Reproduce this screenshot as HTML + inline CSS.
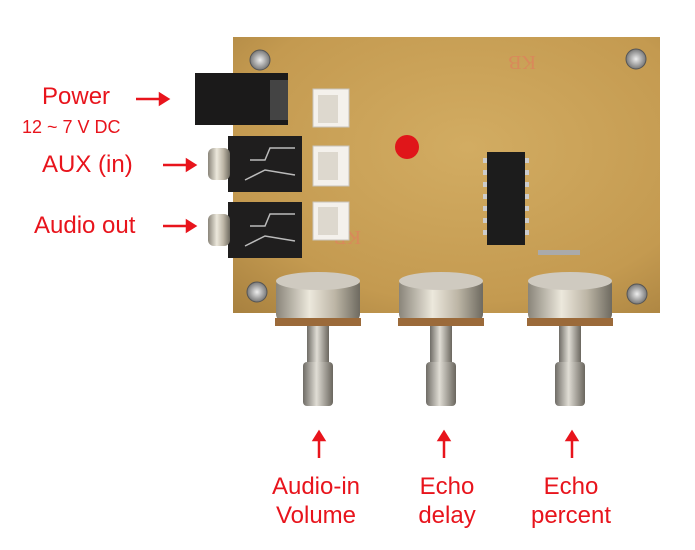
<!DOCTYPE html>
<html><head><style>
body{margin:0;background:#fff;width:695px;height:550px;position:relative;overflow:hidden;font-family:"Liberation Sans",sans-serif}
.t{position:absolute;color:#e8141c;font-size:24px;line-height:29px;text-align:center;white-space:nowrap}
.a{position:absolute}
</style></head><body>
<svg class="a" style="left:0;top:0" width="695" height="550">
<defs>
<radialGradient id="pcb" cx="0.55" cy="0.4" r="0.8"><stop offset="0" stop-color="#d2ac62"/><stop offset="0.7" stop-color="#c49a50"/><stop offset="1" stop-color="#a98240"/></radialGradient>
<linearGradient id="met" x1="0" x2="1"><stop offset="0" stop-color="#8a857a"/><stop offset="0.4" stop-color="#ece8dc"/><stop offset="0.7" stop-color="#bdb6a6"/><stop offset="1" stop-color="#6e6a60"/></linearGradient>
<linearGradient id="sh" x1="0" x2="1"><stop offset="0" stop-color="#6f6c66"/><stop offset="0.45" stop-color="#e0ddd5"/><stop offset="1" stop-color="#6a665e"/></linearGradient>
<radialGradient id="scr"><stop offset="0" stop-color="#eee"/><stop offset="1" stop-color="#777"/></radialGradient>
</defs>
<rect x="233" y="37" width="427" height="276" fill="url(#pcb)"/>
<text x="540" y="70" font-size="20" fill="#d9895a" transform="rotate(180 538 63)" font-family="Liberation Serif">KB</text>
<text x="365" y="245" font-size="20" fill="#d9895a" transform="rotate(180 363 238)" font-family="Liberation Serif">KB</text>
<g fill="url(#scr)" stroke="#555"><circle cx="260" cy="60" r="10"/><circle cx="636" cy="59" r="10"/><circle cx="257" cy="292" r="10"/><circle cx="637" cy="294" r="10"/></g>
<!-- power jack -->
<rect x="195" y="73" width="93" height="52" fill="#1b1a1a"/>
<rect x="270" y="80" width="18" height="40" fill="#444"/>
<!-- audio jacks -->
<rect x="228" y="136" width="74" height="56" fill="#1f1e1e"/>
<rect x="228" y="202" width="74" height="56" fill="#1f1e1e"/>
<rect x="208" y="148" width="22" height="32" rx="6" fill="url(#met)"/>
<rect x="208" y="214" width="22" height="32" rx="6" fill="url(#met)"/>
<g stroke="#bbb" fill="none" stroke-width="1.5"><path d="M250 160 l15 0 l5 -12 l25 0 M245 180 l20 -10 l30 5"/><path d="M250 226 l15 0 l5 -12 l25 0 M245 246 l20 -10 l30 5"/></g>
<!-- white connectors -->
<g fill="#f4f1ec" stroke="#c8c4bb"><rect x="313" y="89" width="36" height="38"/><rect x="313" y="146" width="36" height="40"/><rect x="313" y="202" width="36" height="38"/></g>
<g fill="#ddd8ce"><rect x="318" y="95" width="20" height="28"/><rect x="318" y="152" width="20" height="28"/><rect x="318" y="207" width="20" height="28"/></g>
<!-- LED -->
<circle cx="407" cy="147" r="12" fill="#e0161a"/>
<!-- IC -->
<rect x="487" y="152" width="38" height="93" fill="#1c1c1c"/>
<g fill="#ccc"><rect x="483" y="158" width="4" height="5"/><rect x="483" y="170" width="4" height="5"/><rect x="483" y="182" width="4" height="5"/><rect x="483" y="194" width="4" height="5"/><rect x="483" y="206" width="4" height="5"/><rect x="483" y="218" width="4" height="5"/><rect x="483" y="230" width="4" height="5"/><rect x="525" y="158" width="4" height="5"/><rect x="525" y="170" width="4" height="5"/><rect x="525" y="182" width="4" height="5"/><rect x="525" y="194" width="4" height="5"/><rect x="525" y="206" width="4" height="5"/><rect x="525" y="218" width="4" height="5"/><rect x="525" y="230" width="4" height="5"/></g>
<rect x="538" y="250" width="42" height="5" fill="#aaa"/>
<!-- pots -->
<g id="p">
<rect x="276" y="277" width="84" height="45" rx="8" fill="url(#met)"/>
<ellipse cx="318" cy="281" rx="42" ry="9" fill="#cfcac0"/>
<rect x="275" y="318" width="86" height="8" fill="#9b6a3a"/>
<rect x="307" y="326" width="22" height="36" fill="url(#sh)"/>
<rect x="303" y="362" width="30" height="44" rx="4" fill="url(#sh)"/>
</g>
<use href="#p" x="123"/><use href="#p" x="252"/>
<!-- arrows -->
<g stroke="#e8141c" stroke-width="2.5" fill="#e8141c">
<line x1="136" y1="99" x2="162" y2="99"/><path d="M168 99 l-8 -5 v10z"/>
<line x1="163" y1="165" x2="189" y2="165"/><path d="M195 165 l-8 -5 v10z"/>
<line x1="163" y1="226" x2="189" y2="226"/><path d="M195 226 l-8 -5 v10z"/>
<line x1="319" y1="438" x2="319" y2="458"/><path d="M319 432 l-5 8 h10z"/>
<line x1="444" y1="438" x2="444" y2="458"/><path d="M444 432 l-5 8 h10z"/>
<line x1="572" y1="438" x2="572" y2="458"/><path d="M572 432 l-5 8 h10z"/>
</g>
</svg>
<div class="t" style="left:42px;top:82px">Power</div>
<div class="t" style="left:22px;top:113px;font-size:18px">12 ~ 7 V DC</div>
<div class="t" style="left:42px;top:150px">AUX (in)</div>
<div class="t" style="left:34px;top:211px">Audio out</div>
<div class="t" style="left:256px;top:472px;width:120px">Audio-in<br>Volume</div>
<div class="t" style="left:387px;top:472px;width:120px">Echo<br>delay</div>
<div class="t" style="left:511px;top:472px;width:120px">Echo<br>percent</div>
</body></html>
